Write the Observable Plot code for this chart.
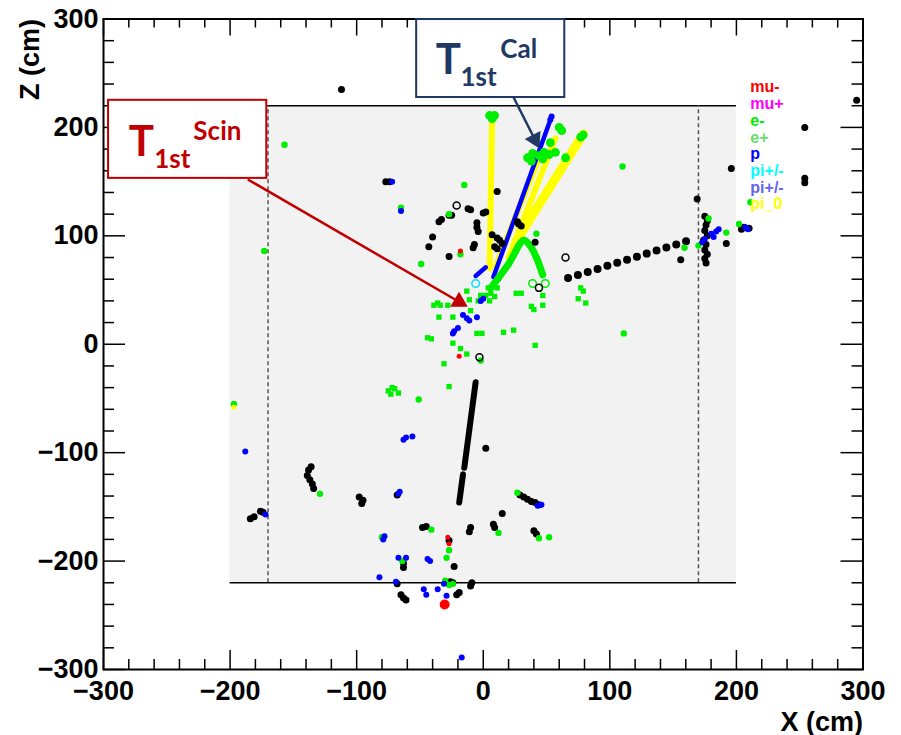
<!DOCTYPE html>
<html><head><meta charset="utf-8">
<script src="https://cdn.jsdelivr.net/npm/d3@7"></script>
<script src="https://cdn.jsdelivr.net/npm/@observablehq/plot@0.6"></script>
<style>body{margin:0;background:#fff} #chart svg{display:block;overflow:visible}</style>
</head><body><div id="chart"></div><script>
// ---------- axes ----------
const xMajor = [-300,-200,-100,0,100,200,300];
const yMajor = [-300,-200,-100,0,100,200,300];
const xMinor = d3.range(-300,301,20).filter(v=>v%100!==0);
const yMinor = d3.range(-300,301,20).filter(v=>v%100!==0);
// ---------- detector geometry (cm) ----------
const scintBoxX = [-200,200];
const scintBoxZ = [-220,220];
const calPlaneX = [-170,170];
// ---------- legend ----------
const legendLabels = ["mu-","mu+","e-","e+","p","pi+/-","pi+/-","pi_0"];
const legendColors = ["#ff0000","#ff00ff","#00ee00","#66dd66","#0000ff","#00ffff","#6666ee","#ffff00"];
// ---------- tracks (x, z in cm) ----------
const yellowTracks = [ [[7,209],[5,70]], [[10,72],[43,169]], [[20,80],[57,190]] ];
const yellowWideTracks = [ [[26,95],[79,194]] ];
const blueTracks = [ [[8,62],[54,210]], [[-6,63],[2,71]] ];
const greenTracks = [ [[6,52],[20,74],[32,96],[37,91],[42,80],[47,64]] ];
const blackTracks = [ [[-6,-35],[-15,-114]], [[-16,-120],[-19,-146]] ];
const blackThinTracks = [ [[13,59],[27,89]] ];
const blackDottedTrack = [ [[67,61],[166,97]] ];
// ---------- hits (x, z in cm) ----------
const blackHits = [
 [-112,235],[295,225],[254,200],[254,153],[254,149],[196,162],
 [-77,150],[-74,150],
 [-12,125],[-10,124],[0,121],[2,122],[-5,112],[-5,108],[-4,104],[-35,113],[-33,115],[-27,119],[-25,119],[-40,99],[-43,90],[-27,81],[-7,92],[-8,89],[11,141],
 [11,98],[13,96],[9,90],[11,88],[7,101],[15,93],[28,111],[30,109],[27,113],[41,94],
 [169,134],[175,118],[177,114],[176,110],[175,105],[177,100],[174,96],[176,92],[175,87],[177,83],[175,79],[176,75],[192,93],[156,78],[206,108],[210,107],[204,106],
 [-139,-121],[-137,-125],[-135,-129],[-134,-133],[-138,-116],[-136,-113],[-95,-144],[-98,-141],[-96,-147],[-184,-161],[-181,-159],[-174,-155],[-176,-154],
 [2,-96],[-48,-169],[-45,-168],[-11,-173],[-10,-169],[8,-166],[9,-169],[15,-156],
 [29,-139],[32,-141],[35,-143],[38,-145],[41,-146],[44,-148],[40,-172],[42,-175],
 [-27,-181],[-63,-206],[-63,-202],[-23,-205],[-68,-221],[-26,-219],[-24,-220],[-63,-234],[-65,-231],[-61,-236],[-19,-229],[-21,-231],[-10,-223],[-9,-220],
 [-68,-139]
];
const blueHits = [
 [-72,150],[-65,123],[-188,-99],[-172,-157],[-63,-88],[-61,-86],[-56,-85],[-67,-138],[-66,-136],[43,-149],[46,-148],
 [-67,-197],[-61,-197],[-42,-200],[-44,-198],[-82,-215],[-69,-219],[-31,-221],[-47,-226],[-36,-226],[-45,-231],[-29,-232],[-17,-289],[-78,-177],[-79,-180],
 [-16,27],[-13,24],[-11,22],[-5,25],[-20,15],[-23,12],[-24,10],[0,42],[-2,40],
 [180,102],[184,104],[186,106],[173,94],[175,97],[207,108],[209,106],[182,99],
 [54,210],[53,207]
];
const greenSquareHits = [
 [-13,49],[4,52],[8,53],[11,52],[6,47],[9,44],[2,45],[5,40],[-11,41],[-2,45],[-4,40],[26,47],[30,47],[47,45],[38,35],[40,32],[47,36],
 [-39,36],[-36,38],[-34,36],[-28,36],[-35,25],[-24,25],[-10,31],[-44,6],[-41,5],[-5,10],[-1,10],[16,11],[24,13],[-24,1],[-18,-4],[-13,-9],[-31,-18],[41,-1],
 [77,52],[75,42],[81,38],[79,49],
 [-75,-43],[-72,-40],[-70,-41],[-67,-45],[-73,-46],[-27,-39]
];
const greenHits = [
 [-157,184],[-173,86],[-65,126],[-15,147],[-27,120],[-18,83],[-49,74],[42,102],[110,164],[111,10],[-51,-51],[-197,-55],[-129,-138],
 [-41,-171],[12,-174],[27,-137],[44,-179],[52,-178],[-80,-178],[-27,-190],[-29,-197],[-30,-218],[-27,-222],[-2,-15],
 [178,116],[192,103],[159,89],[170,91],[202,111],[211,131],[-64,-200],[-24,-221]
];
const greenCalHits = [
 [35,172],[39,176],[44,174],[48,177],[38,169],[47,171],[53,186],[57,177],[60,200],[62,197],[65,172],[79,193],[77,191],[5,211],[9,211],[7,208],[52,175]
];
const redHits = [[-27,-184],[-18,86],[-19,-11],[-28,-178]];
const redBigHits = [[-30.5,-240]];
const yellowHits = [[-197,-58]];
const cyanOpen = [[-6,56]];
const greenOpen = [[39,56],[49,56]];
const blackOpen = [[44,52],[-3,-12],[65,80],[-21,128]];
// ---------- annotations ----------
const annotBoxes = [
 {x1:-296,x2:-171,z1:225,z2:153,color:"#c00000"},
 {x1:-52.6,x2:64.4,z1:299.5,z2:227.6,color:"#1f3864"}
];
const annotMain = [{t:"T",x:-280,z:174,color:"#c00000"},{t:"T",x:-37.5,z:249,color:"#1f3864"}];
const annotSub = [{t:"1st",x:-260,z:163,color:"#c00000"},{t:"1st",x:-18,z:238,color:"#1f3864"}];
const annotSup = [{t:"Scin",x:-229,z:188,color:"#c00000"},{t:"Cal",x:13.5,z:264,color:"#1f3864"}];
const annotArrows = [
 {start:[-186,152],tip:[-13,35],color:"#c00000"},
 {start:[24,227.6],tip:[44,181.5],color:"#1f3864"}
];

// ---------- layout ----------
const W=901,H=735,ML=103,MR=38.5,MT=18.5,MB=66;
const FW=W-ML-MR, FH=H-MT-MB;
const fmt = d => d<0 ? "\u2212"+(-d) : String(d);
const rows = tr => tr.flatMap((t,id)=>t.map(([x,z])=>({x,z,id})));
const heads = annotArrows.map(a=>{
  const dxp=(a.tip[0]-a.start[0])*FW/600, dyp=-(a.tip[1]-a.start[1])*FH/600;
  const L=Math.hypot(dxp,dyp), ux=dxp/L, uy=dyp/L, back=9;
  return {...a, cx:a.tip[0]-ux*back*600/FW, cz:a.tip[1]+uy*back*600/FH, rot:Math.atan2(dyp,dxp)*180/Math.PI+90};
});
const px = d=>d[0], pz = d=>d[1];
const font = "Liberation Sans, Arial, Helvetica, sans-serif";
const afont = "Lato, Open Sans, sans-serif";

const chart = Plot.plot({
  width:W, height:H, marginLeft:ML, marginRight:MR, marginTop:MT, marginBottom:MB,
  x:{domain:[-300,300], axis:null}, y:{domain:[-300,300], axis:null},
  color:{type:"identity"},
  style:{background:"white", fontFamily:font, color:"black"},
  marks:[
    Plot.rect([scintBoxX], {x1:d=>d[0], x2:d=>d[1], y1:()=>scintBoxZ[0], y2:()=>scintBoxZ[1], fill:"#f2f2f2"}),
    Plot.ruleY(scintBoxZ, {y:d=>d, x1:()=>scintBoxX[0], x2:()=>scintBoxX[1], stroke:"black", strokeWidth:1.5}),
    Plot.ruleX(calPlaneX, {x:d=>d, y1:()=>scintBoxZ[0], y2:()=>scintBoxZ[1], stroke:"#555", strokeWidth:1.5, strokeDasharray:"4,3"}),
    // tracks
    Plot.line(rows(yellowTracks), {x:"x", y:"z", z:"id", stroke:"#ffff00", strokeWidth:6, strokeLinecap:"round"}),
    Plot.line(rows(yellowWideTracks), {x:"x", y:"z", z:"id", stroke:"#ffff00", strokeWidth:9, strokeLinecap:"round"}),
    Plot.line(rows(blackThinTracks), {x:"x", y:"z", z:"id", stroke:"black", strokeWidth:2}),
    Plot.line(rows(blueTracks), {x:"x", y:"z", z:"id", stroke:"#0000ff", strokeWidth:4.5, strokeLinecap:"round"}),
    Plot.line(rows(greenTracks), {x:"x", y:"z", z:"id", stroke:"#00ee00", strokeWidth:7, strokeLinecap:"round", strokeLinejoin:"round", curve:"catmull-rom"}),
    Plot.line(rows(blackTracks), {x:"x", y:"z", z:"id", stroke:"black", strokeWidth:6, strokeLinecap:"round"}),
    Plot.line(rows(blackDottedTrack), {x:"x", y:"z", z:"id", stroke:"black", strokeWidth:8, strokeLinecap:"round", strokeDasharray:"0 10.3"}),
    // hits
    Plot.dot(blackHits, {x:px, y:pz, r:3.5, fill:"black"}),
    Plot.dot(greenSquareHits, {x:px, y:pz, r:3, symbol:"square", fill:"#00ee00"}),
    Plot.dot(greenHits, {x:px, y:pz, r:3.2, fill:"#00ee00"}),
    Plot.dot(greenCalHits, {x:px, y:pz, r:4.4, fill:"#00ee00"}),
    Plot.dot(blueHits, {x:px, y:pz, r:3, fill:"#0000ff"}),
    Plot.dot(yellowHits, {x:px, y:pz, r:2.5, fill:"#ffff00"}),
    Plot.dot(redHits, {x:px, y:pz, r:2.5, fill:"#ff0000"}),
    Plot.dot(redBigHits, {x:px, y:pz, r:5, fill:"#ff0000"}),
    Plot.dot(cyanOpen, {x:px, y:pz, r:3.8, stroke:"#00e5ff", strokeWidth:1.5, fill:"none"}),
    Plot.dot(greenOpen, {x:px, y:pz, r:3.8, stroke:"#00ee00", strokeWidth:1.5, fill:"none"}),
    Plot.dot(blackOpen, {x:px, y:pz, r:3.5, stroke:"black", strokeWidth:1.5, fill:"none"}),
    // legend
    Plot.text(legendLabels, {x:()=>211, y:(d,i)=>237-15.4*i, text:d=>d, fill:(d,i)=>legendColors[i], textAnchor:"start", fontSize:16, fontWeight:"bold"}),
    // frame & ticks
    Plot.frame({stroke:"black", strokeWidth:2}),
    Plot.tickX(xMajor, {x:d=>d, insetTop:FH-19, stroke:"black", strokeWidth:1.5}),
    Plot.tickX(xMinor, {x:d=>d, insetTop:FH-10, stroke:"black", strokeWidth:1.5}),
    Plot.tickX(xMajor, {x:d=>d, insetBottom:FH-17, stroke:"black", strokeWidth:1.5}),
    Plot.tickX(xMinor, {x:d=>d, insetBottom:FH-9, stroke:"black", strokeWidth:1.5}),
    Plot.tickY(yMajor, {y:d=>d, insetRight:FW-22, stroke:"black", strokeWidth:1.5}),
    Plot.tickY(yMinor, {y:d=>d, insetRight:FW-11, stroke:"black", strokeWidth:1.5}),
    Plot.tickY(yMajor, {y:d=>d, insetLeft:FW-22, stroke:"black", strokeWidth:1.5}),
    Plot.tickY(yMinor, {y:d=>d, insetLeft:FW-11, stroke:"black", strokeWidth:1.5}),
    Plot.text(xMajor, {x:d=>d, text:fmt, frameAnchor:"bottom", lineAnchor:"top", dy:11, fontSize:27, fontWeight:"bold"}),
    Plot.text(yMajor, {y:d=>d, text:fmt, frameAnchor:"left", textAnchor:"end", dx:-5, fontSize:27, fontWeight:"bold"}),
    Plot.text(["X (cm)"], {text:d=>d, frameAnchor:"bottom-right", textAnchor:"end", lineAnchor:"bottom", dy:61, fontSize:27, fontWeight:"bold"}),
    Plot.text(["Z (cm)"], {text:d=>d, frameAnchor:"top-left", rotate:-90, textAnchor:"end", lineAnchor:"bottom", dx:-65, fontSize:27, fontWeight:"bold"}),
    // annotations
    Plot.rect(annotBoxes, {x1:"x1", x2:"x2", y1:"z1", y2:"z2", fill:"white", stroke:d=>d.color, strokeWidth:2}),
    Plot.link(heads, {x1:d=>d.start[0], y1:d=>d.start[1], x2:"cx", y2:"cz", stroke:d=>d.color, strokeWidth:2.5}),
    Plot.dot(heads, {x:"cx", y:"cz", symbol:"triangle", r:6.5, fill:d=>d.color, rotate:"rot"}),
    Plot.text(annotMain, {x:"x", y:"z", text:"t", fill:d=>d.color, textAnchor:"start", lineAnchor:"bottom", fontSize:42, fontWeight:"bold", fontFamily:afont}),
    Plot.text(annotSub, {x:"x", y:"z", text:"t", fill:d=>d.color, textAnchor:"start", lineAnchor:"bottom", fontSize:26, fontWeight:"bold", fontFamily:afont}),
    Plot.text(annotSup, {x:"x", y:"z", text:"t", fill:d=>d.color, textAnchor:"start", lineAnchor:"bottom", fontSize:26, fontWeight:"bold", fontFamily:afont})
  ]
});
document.getElementById("chart").appendChild(chart);
</script></body></html>
